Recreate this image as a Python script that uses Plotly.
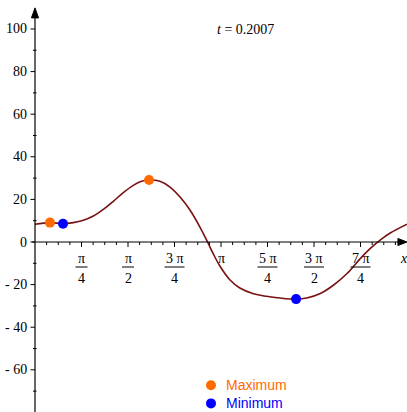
import math
import plotly.graph_objects as go

# sampled curve y(x) at t = 0.2007
curve_x = [0.0, 0.253, 0.473, 0.647, 0.816, 0.985, 1.154, 1.323, 1.492, 1.66, 1.80, 1.926,
           2.11, 2.28, 2.45, 2.62, 2.79, 2.915, 3.01, 3.125, 3.29, 3.46, 3.69, 3.91, 4.14,
           4.41, 4.59, 4.81, 5.04, 5.27, 5.49, 5.66, 5.83, 6.0, 6.283]
curve_y = [8.3, 9.1, 8.6, 9.1, 10.2, 12.2, 15.3, 19.1, 23.2, 26.6, 28.5, 29.1,
           28.5, 25.8, 21.1, 14.9, 6.8, 0.0, -5.5, -11.4, -17.7, -21.6, -24.3, -25.5, -26.3,
           -26.8, -26.3, -24.3, -20.3, -14.8, -7.9, -3.1, 0.9, 4.2, 8.4]

# local extrema
max_x = [0.253, 1.926]
max_y = [9.1, 29.1]
min_x = [0.473, 4.41]
min_y = [8.6, -26.8]

legend_labels = ["Maximum", "Minimum"]

# axis ticks
x_major_k = [1, 2, 3, 4, 5, 6, 7]            # multiples of pi/4
x_major_num = ["π", "π", "3 π", "π", "5 π", "3 π", "7 π"]
x_major_den = ["4", "2", "4", "", "4", "2", "4"]
y_major = [-60, -40, -20, 0, 20, 40, 60, 80, 100]
y_major_text = ["- 60", "- 40", "- 20", "0", "20", "40", "60", "80", "100"]
y_minor = [-70, -50, -30, -10, 10, 30, 50, 70, 90]

X_MIN, X_MAX = -0.5912, 2 * math.pi
Y_MIN, Y_MAX = -79.8, 113.6
W, H = 407, 412

CURVE = "#7a1010"
ORANGE = "#ff6a00"
BLUE = "#0000ff"
SERIF = "Liberation Serif"
SANS = "Liberation Sans"
KEY_SIZE = 14
KEY_ROW = KEY_SIZE * 1.3          # height of one text row in the key

fig = go.Figure()

fig.add_trace(go.Scatter(x=curve_x, y=curve_y, mode="lines",
                         line=dict(color=CURVE, width=1.6, shape="spline", smoothing=1.0),
                         showlegend=False, hoverinfo="skip"))
fig.add_trace(go.Scatter(x=max_x, y=max_y, mode="markers", name=legend_labels[0],
                         marker=dict(color=ORANGE, size=10), showlegend=False))
fig.add_trace(go.Scatter(x=min_x, y=min_y, mode="markers", name=legend_labels[1],
                         marker=dict(color=BLUE, size=10), showlegend=False))

shapes = []
annotations = []
axis_line = dict(color="black", width=1.2)

# axes lines
shapes.append(dict(type="line", xref="x", yref="y", x0=0, x1=0, y0=Y_MIN, y1=106,
                   line=axis_line))
shapes.append(dict(type="line", xref="x", yref="y", x0=-0.05, x1=6.15, y0=0, y1=0,
                   line=axis_line))
# arrow heads
shapes.append(dict(type="path", xref="x", yref="y",
                   path="M -0.06 105.2 L 0 109.9 L 0.06 105.2 Z",
                   fillcolor="black", line=dict(color="black", width=1)))
shapes.append(dict(type="path", xref="x", yref="y",
                   path="M 6.13 -1.65 L 6.283 0 L 6.13 1.65 Z",
                   fillcolor="black", line=dict(color="black", width=1)))

# x ticks
for k in range(1, 32):
    xv = k * math.pi / 16
    depth = -5 if k % 4 == 0 else -3
    shapes.append(dict(type="line", xref="x", yref="y", ysizemode="pixel", yanchor=0,
                       x0=xv, x1=xv, y0=0, y1=depth, line=dict(color="black", width=1)))

for k, num, den in zip(x_major_k, x_major_num, x_major_den):
    xv = k * math.pi / 4
    annotations.append(dict(x=xv, y=0, xref="x", yref="y", text=num, showarrow=False,
                            yshift=-16, font=dict(family=SERIF, size=14, color="black")))
    if den:
        annotations.append(dict(x=xv, y=0, xref="x", yref="y", text=den, showarrow=False,
                                yshift=-36, font=dict(family=SERIF, size=14, color="black")))
        half = 6 if len(num) == 1 else 10
        shapes.append(dict(type="line", xref="x", yref="y", xsizemode="pixel", xanchor=xv,
                           ysizemode="pixel", yanchor=0, x0=-half, x1=half, y0=-25, y1=-25,
                           line=dict(color="black", width=1)))

# y ticks
for yv, txt in zip(y_major, y_major_text):
    shapes.append(dict(type="line", xref="x", yref="y", xsizemode="pixel", xanchor=0,
                       x0=-4.5, x1=0, y0=yv, y1=yv, line=dict(color="black", width=1)))
    annotations.append(dict(x=0, y=yv, xref="x", yref="y", text=txt, showarrow=False,
                            xanchor="right", xshift=-6,
                            font=dict(family=SERIF, size=14, color="black")))
for yv in y_minor:
    shapes.append(dict(type="line", xref="x", yref="y", xsizemode="pixel", xanchor=0,
                       x0=-2, x1=1.5, y0=yv, y1=yv, line=dict(color="black", width=1)))

# axis name and time stamp
annotations.append(dict(x=X_MAX, y=0, xref="x", yref="y", text="<i>x</i>", showarrow=False,
                        xanchor="right", xshift=3, yshift=-16,
                        font=dict(family=SERIF, size=14, color="black")))
annotations.append(dict(x=276 / W, y=1 - 20 / H, xref="paper", yref="paper",
                        text="<i>t</i> = 0.2007", showarrow=False,
                        font=dict(family=SERIF, size=14, color="black")))

# key for the extrema markers, stacked upward from the bottom edge
for row, (label, color) in enumerate(zip(legend_labels[::-1], [BLUE, ORANGE])):
    bottom_px = H - row * KEY_ROW
    centre_px = bottom_px - KEY_ROW / 2 + 0.5
    shapes.append(dict(type="circle", xref="paper", yref="paper",
                       xsizemode="pixel", ysizemode="pixel",
                       xanchor=211 / W, yanchor=1 - centre_px / H,
                       x0=-5, x1=5, y0=-5, y1=5,
                       fillcolor=color, line=dict(color=color, width=0)))
    annotations.append(dict(x=225 / W, y=1 - bottom_px / H, xref="paper", yref="paper",
                            text=label, showarrow=False, xanchor="left", yanchor="bottom",
                            borderpad=0,
                            font=dict(family=SANS, size=KEY_SIZE, color=color)))

fig.update_layout(
    width=W, height=H,
    margin=dict(l=0, r=0, t=0, b=0),
    paper_bgcolor="white", plot_bgcolor="white",
    xaxis=dict(range=[X_MIN, X_MAX], visible=False),
    yaxis=dict(range=[Y_MIN, Y_MAX], visible=False),
    shapes=shapes, annotations=annotations,
    showlegend=False,
)

fig.write_html("out.html")
